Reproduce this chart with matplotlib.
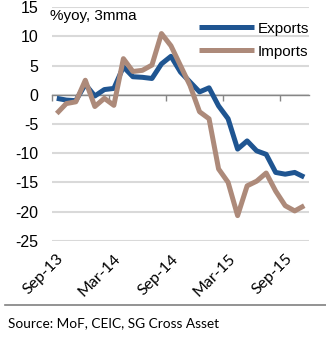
import matplotlib
matplotlib.use("Agg")
import matplotlib.pyplot as plt

months = ["Sep-13", "Oct-13", "Nov-13", "Dec-13", "Jan-14", "Feb-14", "Mar-14", "Apr-14",
          "May-14", "Jun-14", "Jul-14", "Aug-14", "Sep-14", "Oct-14", "Nov-14", "Dec-14",
          "Jan-15", "Feb-15", "Mar-15", "Apr-15", "May-15", "Jun-15", "Jul-15", "Aug-15",
          "Sep-15", "Oct-15", "Nov-15"]
exports = [-0.6, -0.9, -1.0, 1.8, -0.2, 0.9, 1.1, 4.8, 3.1, 3.0, 2.8, 5.3, 6.6, 3.9,
           2.2, 0.5, 1.2, -1.9, -4.1, -9.3, -7.9, -9.6, -10.2, -13.3, -13.6, -13.3, -14.1]
imports = [-3.2, -1.5, -1.2, 2.5, -2.0, -0.6, -1.8, 6.2, 4.0, 4.2, 5.1, 10.5, 8.4, 5.0,
           1.6, -2.9, -4.1, -12.7, -15.0, -20.7, -15.6, -14.8, -13.4, -16.5, -19.0, -19.9, -19.0]
yticks = [-25, -20, -15, -10, -5, 0, 5, 10, 15]

W, H = 326, 353
fig = plt.figure(figsize=(W / 100, H / 100), dpi=100)
left, right, top, bottom = 52, 309, 7.3, 240.7
ax = fig.add_axes([left / W, 1 - bottom / H, (right - left) / W, (bottom - top) / H])

x = list(range(len(months)))
blue = "#1F5591"
brown = "#AD8A7A"
ax.plot(x, exports, color=blue, lw=3.6, label="Exports", zorder=3,
        solid_capstyle="butt", solid_joinstyle="round")
ax.plot(x, imports, color=brown, lw=3.6, label="Imports", zorder=4,
        solid_capstyle="butt", solid_joinstyle="round")

ax.set_xlim(-0.5, len(months) - 0.5)
ax.set_ylim(-25, 15)
ax.set_yticks(yticks)
ax.set_yticklabels([str(v) for v in yticks], fontsize=11.5, family="Liberation Sans")
ax.tick_params(axis="y", length=0, pad=10)
ax.yaxis.grid(True, color="#D9D9D9", lw=1.5)
ax.set_axisbelow(True)

for s in ["left", "right", "top"]:
    ax.spines[s].set_visible(False)
ax.spines["bottom"].set_position(("data", 0))
ax.spines["bottom"].set_color("#868686")
ax.spines["bottom"].set_linewidth(1.0)
ax.spines["bottom"].set_zorder(2)
ax.set_xticks([i - 0.5 for i in range(0, len(months), 6)])
ax.set_xticklabels([])
ax.tick_params(axis="x", direction="out", length=4, color="#868686", width=1.0)

sec = ax.secondary_xaxis("bottom")
sec.set_xticks(list(range(0, len(months), 6)))
sec.set_xticklabels([months[i] for i in range(0, len(months), 6)], fontsize=11.5,
                    family="Lato", rotation=45, ha="right", rotation_mode="anchor")
sec.tick_params(length=0, pad=8)
sec.spines["bottom"].set_visible(False)

fig.text(left / W - 0.005, 1 - 16 / H, "%yoy, 3mma", fontsize=11, family="Liberation Sans",
         ha="left", va="center")

leg = ax.legend(loc="upper left", bbox_to_anchor=(191 / W, 1 - 14 / H),
                bbox_transform=fig.transFigure, frameon=False, borderpad=0,
                handlelength=3.6, handletextpad=0.25, labelspacing=0.6,
                prop={"family": "Liberation Sans", "size": 11})

fig.add_artist(plt.Line2D([5 / W, 1], [1 - 305 / H, 1 - 305 / H], color="#808080", lw=1.2))
fig.text(8 / W, 1 - 323 / H, "Source: MoF, CEIC, SG Cross Asset", fontsize=9.8,
         family="Lato", ha="left", va="center")

fig.savefig("out.png", dpi=100)
